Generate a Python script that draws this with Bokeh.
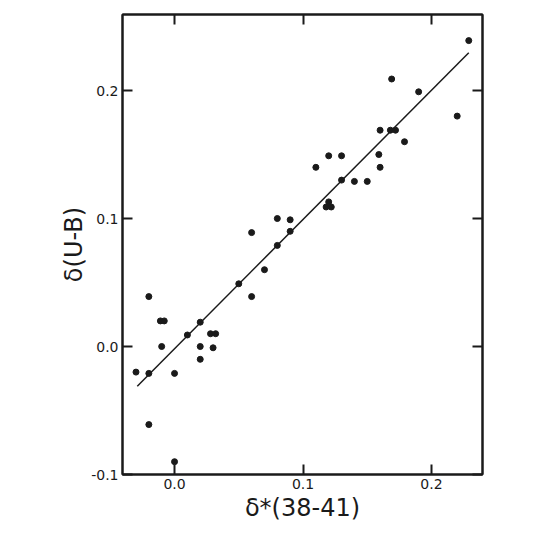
from bokeh.plotting import figure
from bokeh.models import Range1d, LinearAxis, FixedTicker, PrintfTickFormatter
from bokeh.embed import file_html
from bokeh.resources import INLINE

# data
x_vals = [-0.030, -0.020, -0.020, -0.020, -0.011, -0.008, -0.010, 0.000, 0.000,
          0.010, 0.020, 0.020, 0.020, 0.028, 0.032, 0.030, 0.050, 0.060, 0.060,
          0.070, 0.080, 0.080, 0.090, 0.090, 0.110, 0.118, 0.120, 0.122, 0.120,
          0.130, 0.130, 0.140, 0.150, 0.160, 0.159, 0.160, 0.168, 0.172, 0.169,
          0.179, 0.190, 0.220, 0.229]
y_vals = [-0.020, -0.021, 0.039, -0.061, 0.020, 0.020, 0.000, -0.021, -0.090,
          0.009, 0.019, 0.000, -0.010, 0.010, 0.010, -0.001, 0.049, 0.039, 0.089,
          0.060, 0.079, 0.100, 0.090, 0.099, 0.140, 0.109, 0.113, 0.109, 0.149,
          0.130, 0.149, 0.129, 0.129, 0.140, 0.150, 0.169, 0.169, 0.169, 0.209,
          0.160, 0.199, 0.180, 0.239]
fit_x = [-0.029, 0.229]
fit_y = [-0.031, 0.2295]
x_ticks = [0.0, 0.1, 0.2]
y_ticks = [-0.1, 0.0, 0.1, 0.2]

FONT = "DejaVu Sans"
INK = "#1a1a1a"

p = figure(width=512, height=535, output_backend="svg", toolbar_location=None,
           x_range=Range1d(-0.0405, 0.2397), y_range=Range1d(-0.1, 0.2594),
           min_border_left=122, min_border_right=30, min_border_top=14,
           min_border_bottom=61, x_axis_location=None, y_axis_location=None)
p.xgrid.visible = False
p.ygrid.visible = False
p.outline_line_color = INK
p.outline_line_width = 2
p.background_fill_color = "white"
p.border_fill_color = "white"

def style(ax, labels=True):
    ax.formatter = PrintfTickFormatter(format="%.1f")
    ax.axis_line_color = INK
    ax.axis_line_width = 2
    ax.major_tick_in = 10
    ax.major_tick_out = 0
    ax.major_tick_line_color = INK
    ax.major_tick_line_width = 2
    ax.minor_tick_line_color = None
    ax.major_label_text_font = FONT
    ax.major_label_text_font_size = "14px"
    ax.major_label_text_color = INK
    ax.major_label_standoff = 4
    if not labels:
        ax.major_label_text_font_size = "0px"
        ax.major_label_text_color = None

bx = LinearAxis(ticker=FixedTicker(ticks=x_ticks), axis_label="δ*(38-41)")
style(bx)
bx.axis_label_text_font = FONT
bx.axis_label_text_font_size = "24px"
bx.axis_label_text_font_style = "normal"
bx.axis_label_text_color = INK
bx.axis_label_standoff = 2
p.add_layout(bx, "below")

tx = LinearAxis(ticker=FixedTicker(ticks=x_ticks))
style(tx, labels=False)
p.add_layout(tx, "above")

ly = LinearAxis(ticker=FixedTicker(ticks=y_ticks), axis_label="δ(U-B)")
style(ly)
ly.axis_label_text_font = FONT
ly.axis_label_text_font_size = "24px"
ly.axis_label_text_font_style = "normal"
ly.axis_label_text_color = INK
ly.axis_label_standoff = 0
p.add_layout(ly, "left")

ry = LinearAxis(ticker=FixedTicker(ticks=y_ticks))
style(ry, labels=False)
p.add_layout(ry, "right")

p.line(fit_x, fit_y, line_color=INK, line_width=1.5)
p.scatter(x_vals, y_vals, size=6, fill_color=INK, line_color=INK)

open("out.html", "w").write(file_html(p, INLINE))
